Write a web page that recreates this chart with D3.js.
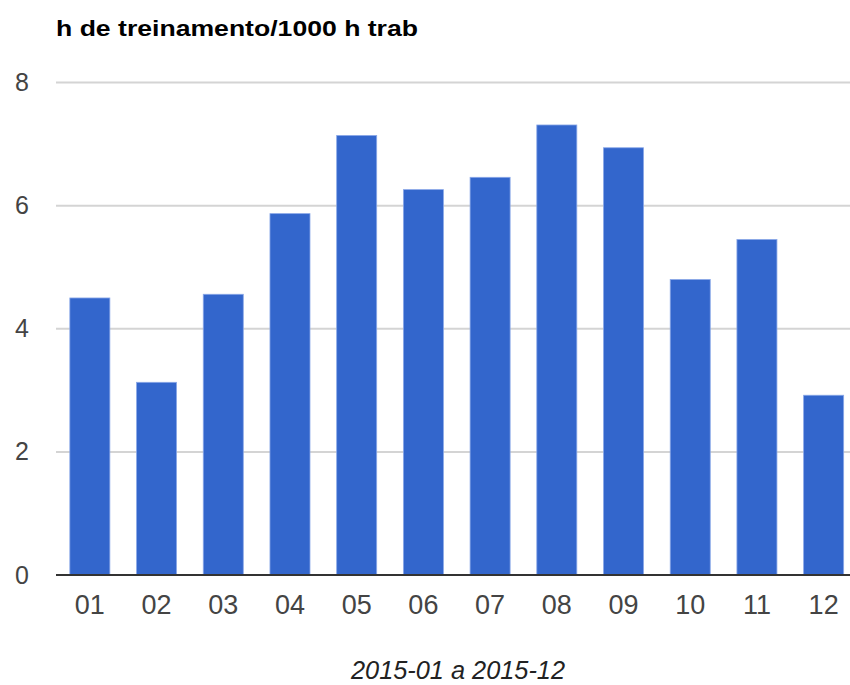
<!DOCTYPE html>
<html lang="en">
    <head>
        <meta charset="utf-8">
        <title>h de treinamento/1000 h trab</title>
        <script src="https://d3js.org/d3.v7.min.js"></script>
        <style type="text/css">
         body { margin: 0; background: #fff; }
         text { font-family: Arial, "Liberation Sans", sans-serif; }
        </style>
    </head>
    <body>
        <script>
         // Chart data
         var months = ["01", "02", "03", "04", "05", "06", "07", "08", "09", "10", "11", "12"];
         var hours = [4.50, 3.13, 4.56, 5.87, 7.14, 6.26, 6.46, 7.31, 6.94, 4.80, 5.45, 2.92];
         var yTicks = [0, 2, 4, 6, 8];
         var title = "h de treinamento/1000 h trab";
         var caption = "2015-01 a 2015-12";

         var width = 850;
         var height = 685;

         var svg = d3.select("body")
                     .append("svg")
                     .attr("width", width)
                     .attr("height", height);

         var x = d3.scaleBand()
                   .domain(months)
                   .range([56.5, 857])
                   .paddingInner(0.4)
                   .paddingOuter(0.2);

         var y = d3.scaleLinear()
                   .domain([0, 8])
                   .range([575, 82.5]);

         // gridlines
         svg.append("g")
            .selectAll("line")
            .data(yTicks.filter(function(d) { return d > 0; }))
            .enter()
            .append("line")
            .attr("x1", 56)
            .attr("x2", width)
            .attr("y1", function(d) { return y(d); })
            .attr("y2", function(d) { return y(d); })
            .attr("stroke", "#d4d4d4")
            .attr("stroke-width", 2);

         // bars
         svg.append("g")
            .selectAll("rect")
            .data(hours)
            .enter()
            .append("rect")
            .attr("x", function(d, i) { return x(months[i]); })
            .attr("y", function(d) { return y(d); })
            .attr("width", x.bandwidth())
            .attr("height", function(d) { return y(0) - y(d); })
            .attr("fill", "#3366cc")
            .attr("stroke", "#8aa8e8")
            .attr("stroke-width", 0.8);

         // baseline
         svg.append("line")
            .attr("x1", 56)
            .attr("x2", width)
            .attr("y1", y(0))
            .attr("y2", y(0))
            .attr("stroke", "#333")
            .attr("stroke-width", 2);

         // y labels
         svg.append("g")
            .selectAll("text")
            .data(yTicks)
            .enter()
            .append("text")
            .attr("x", 29)
            .attr("y", function(d) { return y(d) + 8.5; })
            .attr("text-anchor", "end")
            .attr("font-size", 25)
            .attr("fill", "#444")
            .text(function(d) { return d; });

         // x labels
         svg.append("g")
            .selectAll("text")
            .data(months)
            .enter()
            .append("text")
            .attr("x", function(d) { return x(d) + x.bandwidth() / 2; })
            .attr("y", 614)
            .attr("text-anchor", "middle")
            .attr("font-size", 27)
            .attr("fill", "#444")
            .text(function(d) { return d; });

         // title
         svg.append("text")
            .attr("x", 56)
            .attr("y", 36)
            .attr("font-size", 22)
            .attr("font-weight", "bold")
            .attr("fill", "#000")
            .attr("textLength", 362)
            .attr("lengthAdjust", "spacingAndGlyphs")
            .text(title);

         // caption
         svg.append("text")
            .attr("x", 458)
            .attr("y", 679)
            .attr("text-anchor", "middle")
            .attr("font-size", 25)
            .attr("font-style", "italic")
            .attr("fill", "#222")
            .attr("textLength", 214)
            .attr("lengthAdjust", "spacingAndGlyphs")
            .text(caption);
        </script>
    </body>
</html>
